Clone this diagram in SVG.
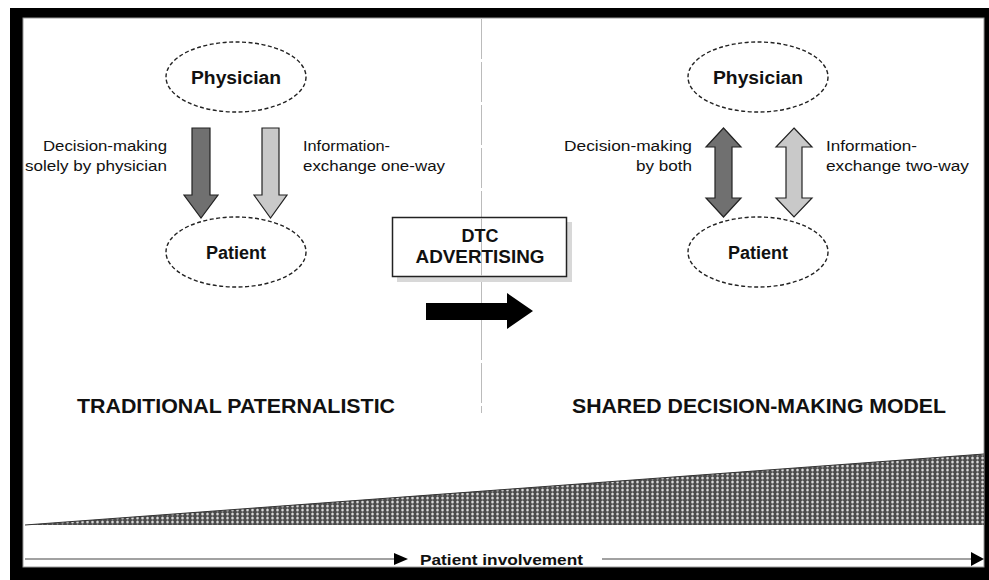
<svg xmlns="http://www.w3.org/2000/svg" width="989" height="580" viewBox="0 0 989 580">
<style>
.ell{fill:#fff;stroke:#222;stroke-width:1.4;stroke-dasharray:4 2.5}
.nodet{font-family:"Liberation Sans",Arial,sans-serif;font-weight:bold;font-size:18px;fill:#111;text-anchor:middle}
.lbl{font-family:"Liberation Sans",Arial,sans-serif;font-size:14px;fill:#111}
.title{font-family:"Liberation Sans",Arial,sans-serif;font-weight:bold;font-size:21px;fill:#111}
.dark{fill:#707070;stroke:#222;stroke-width:1.2}
.light{fill:#c9c9c9;stroke:#222;stroke-width:1.2}
</style>
<defs>
<pattern id="dots" width="5" height="4" patternUnits="userSpaceOnUse">
<rect width="5" height="4" fill="#4a4a4a"/>
<ellipse cx="2.5" cy="2" rx="1.3" ry="1.5" fill="#d8d8d8"/>
</pattern>
</defs>
<rect x="0" y="0" width="989" height="580" fill="#fff"/>
<rect x="10" y="8" width="979" height="572" fill="#000"/>
<rect x="23" y="18" width="961" height="549" fill="#fff" stroke="#999" stroke-width="1"/>

<g id="divider">
<line x1="481.5" y1="19" x2="481.5" y2="413" stroke="#bbb" stroke-width="1" stroke-dasharray="40 3"/>
</g>

<g id="involvement-wedge">
<polygon points="25,525 984,454 984,525" fill="url(#dots)"/>
<line x1="25" y1="525" x2="984" y2="454" stroke="#333" stroke-width="1"/>
</g>

<g id="connectors">
<polygon class="dark" points="192,128 210,128 210,195 218,195 201,218 184,195 192,195"/>
<polygon class="light" points="262,128 279,128 279,195 287,195 270.5,218 254,195 262,195"/>
<polygon class="dark" points="723.5,128 741,147 732,147 732,198 741,198 723.5,217 706,198 715,198 715,147 706,147"/>
<polygon class="light" points="794,128 812,147 802,147 802,198 812,198 794,217 776,198 786,198 786,147 776,147"/>
<polygon points="426,303 507,303 507,293 533,311 507,329 507,320 426,320" fill="#000"/>
<line x1="25" y1="559" x2="395" y2="559" stroke="#444" stroke-width="1.2"/>
<polygon points="394,553 408,559 394,565" fill="#000"/>
<line x1="602" y1="559" x2="973" y2="559" stroke="#444" stroke-width="1.2"/>
<polygon points="971,552 984,559 971,566" fill="#000"/>
</g>

<g id="physician-left">
<ellipse class="ell" cx="236" cy="77" rx="70" ry="35"/>
<text class="nodet" x="236" y="84" textLength="90" lengthAdjust="spacingAndGlyphs">Physician</text>
</g>
<g id="patient-left">
<ellipse class="ell" cx="236" cy="252" rx="70" ry="35"/>
<text class="nodet" x="236" y="259">Patient</text>
</g>
<g id="physician-right">
<ellipse class="ell" cx="758" cy="77" rx="70" ry="35"/>
<text class="nodet" x="758" y="84" textLength="90" lengthAdjust="spacingAndGlyphs">Physician</text>
</g>
<g id="patient-right">
<ellipse class="ell" cx="758" cy="252" rx="70" ry="35"/>
<text class="nodet" x="758" y="259">Patient</text>
</g>

<g id="labels-left">
<text class="lbl" x="167" y="151" text-anchor="end" textLength="124" lengthAdjust="spacingAndGlyphs">Decision-making</text>
<text class="lbl" x="167" y="171" text-anchor="end" textLength="142" lengthAdjust="spacingAndGlyphs">solely by physician</text>
<text class="lbl" x="303" y="151" textLength="87" lengthAdjust="spacingAndGlyphs">Information-</text>
<text class="lbl" x="303" y="171" textLength="142" lengthAdjust="spacingAndGlyphs">exchange one-way</text>
</g>
<g id="labels-right">
<text class="lbl" x="692" y="151" text-anchor="end" textLength="128" lengthAdjust="spacingAndGlyphs">Decision-making</text>
<text class="lbl" x="692" y="171" text-anchor="end" textLength="56" lengthAdjust="spacingAndGlyphs">by both</text>
<text class="lbl" x="826" y="151" textLength="91" lengthAdjust="spacingAndGlyphs">Information-</text>
<text class="lbl" x="826" y="171" textLength="143" lengthAdjust="spacingAndGlyphs">exchange two-way</text>
</g>

<g id="dtc-advertising">
<rect x="397" y="222" width="175" height="60" fill="#d8d8d8"/>
<rect x="392.5" y="217.5" width="174" height="59" fill="#fff" stroke="#222" stroke-width="1.5"/>
<line x1="481.5" y1="218" x2="481.5" y2="276" stroke="#bbb" stroke-width="1"/>
<text class="nodet" x="480" y="242" font-size="17">DTC</text>
<text class="nodet" x="480" y="263" font-size="17" textLength="129" lengthAdjust="spacingAndGlyphs">ADVERTISING</text>
</g>

<g id="titles">
<text class="title" x="77" y="413" textLength="318" lengthAdjust="spacingAndGlyphs">TRADITIONAL PATERNALISTIC</text>
<text class="title" x="572" y="413" textLength="374" lengthAdjust="spacingAndGlyphs">SHARED DECISION-MAKING MODEL</text>
</g>

<g id="axis-label">
<text class="lbl" x="420" y="565" font-weight="bold" font-size="16" textLength="163" lengthAdjust="spacingAndGlyphs">Patient involvement</text>
</g>
</svg>
